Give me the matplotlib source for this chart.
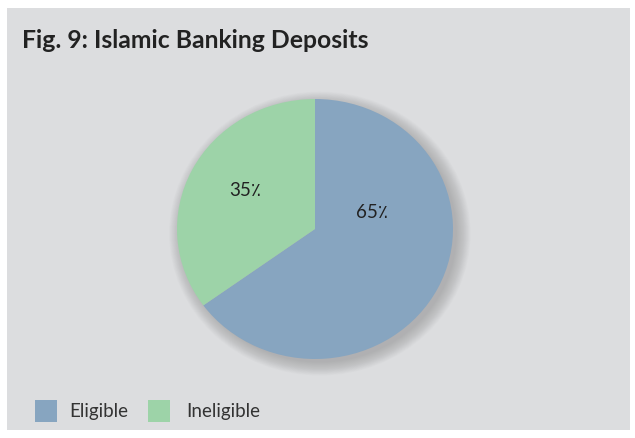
import matplotlib.pyplot as plt
from matplotlib.patches import Rectangle, Ellipse

# Islamic banking deposits split
labels = ['Eligible', 'Ineligible']
shares = [65, 35]
colors = ['#87a5c0', '#9dd3a8']

plt.rcParams['font.family'] = ['Lato', 'DejaVu Sans']

fig = plt.figure(figsize=(6.35, 4.38), dpi=100)
fig.patch.set_facecolor('white')
fig.patches.append(Rectangle((7 / 635, 8 / 438), 623 / 635, 422 / 438,
                             transform=fig.transFigure, facecolor='#dcdddf',
                             edgecolor='none', zorder=-5))

fig.text(22 / 635, 1 - 40 / 438, 'Fig. 9: Islamic Banking Deposits',
         fontsize=17.8, fontweight='bold', color='#222222', va='center')

# pie area: centre (315, 229), radii 138 x 130 px
cx, cy, rx, ry = 315, 229, 138, 130
ax = fig.add_axes([(cx - rx) / 635, 1 - (cy + ry) / 438, 2 * rx / 635, 2 * ry / 438])
ax.axis('off')

# soft drop shadow
for i in range(18):
    s = 0.99 + 0.006 * i
    ax.add_patch(Ellipse((0.035, -0.035), 2 * s, 2 * s,
                         facecolor='#8c8c8c', edgecolor='none', alpha=0.035,
                         zorder=0, clip_on=False))

wedges, texts = ax.pie(shares, colors=colors, startangle=90, counterclock=False,
                       radius=1.0, wedgeprops=dict(linewidth=0))
for w in wedges:
    w.set_zorder(2)
ax.set_aspect('auto')
ax.set_xlim(-1, 1)
ax.set_ylim(-1, 1)

pct_pos = [(372, 212), (245, 190)]
for v, (px, py) in zip(shares, pct_pos):
    fig.text(px / 635, 1 - py / 438, f'{v}\u066a', fontsize=13.5,
             color='#222222', ha='center', va='center')

# legend
leg_x = [35, 148]
txt_x = [69, 186]
for lab, col, lx, tx in zip(labels, colors, leg_x, txt_x):
    fig.patches.append(Rectangle((lx / 635, 1 - 422 / 438), 22 / 635, 22 / 438,
                                 transform=fig.transFigure, facecolor=col,
                                 edgecolor='none', zorder=1))
    fig.text(tx / 635, 1 - 411 / 438, lab, fontsize=13.5, color='#333333',
             va='center')

fig.savefig('out.png', dpi=100)
